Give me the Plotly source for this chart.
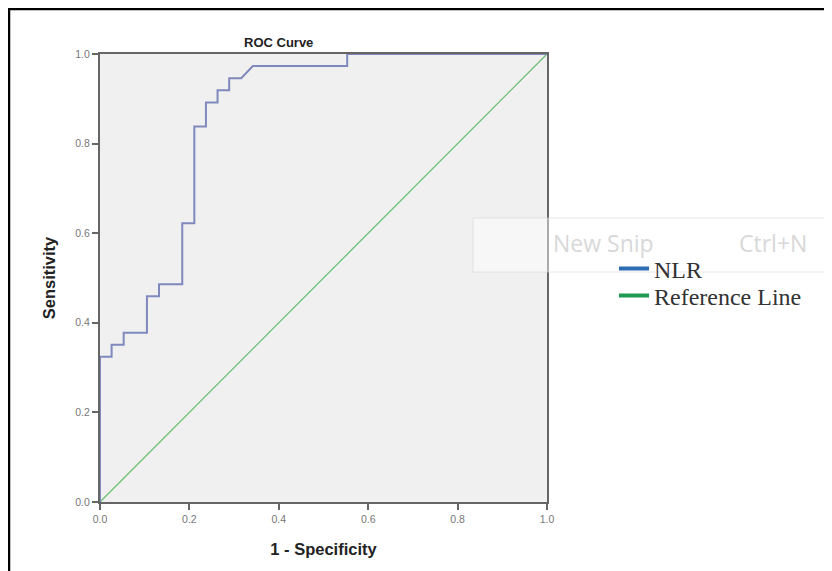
import plotly.graph_objects as go

# ROC curve vertices (1 - specificity, sensitivity)
fpr = [0.0, 0.0, 0.026, 0.026, 0.053, 0.053, 0.105, 0.105, 0.132, 0.132, 0.184, 0.184,
       0.211, 0.211, 0.237, 0.237, 0.263, 0.263, 0.289, 0.289, 0.316, 0.342, 0.553, 0.553, 1.0]
tpr = [0.0, 0.324, 0.324, 0.351, 0.351, 0.378, 0.378, 0.459, 0.459, 0.486, 0.486, 0.622,
       0.622, 0.838, 0.838, 0.892, 0.892, 0.919, 0.919, 0.946, 0.946, 0.973, 0.973, 1.0, 1.0]
ref_x = [0.0, 1.0]
ref_y = [0.0, 1.0]
tick_vals = [0.0, 0.2, 0.4, 0.6, 0.8, 1.0]
tick_text = ["0.0", "0.2", "0.4", "0.6", "0.8", "1.0"]
series_names = ["NLR", "Reference Line"]

# page body has an 8px margin; figure coordinates below are page pixels minus 8
OFF = 8
L, T, PW, PH = 100 - OFF, 54 - OFF, 447, 448
W, H = 832 - OFF, 571 - OFF


def px(xp):
    return (xp - OFF - L) / PW


def py(yp):
    return (T + PH - (yp - OFF)) / PH


fig = go.Figure()
fig.add_trace(go.Scatter(x=ref_x, y=ref_y, mode="lines", showlegend=False,
                         line=dict(color="#6cbf75", width=1.3), hoverinfo="skip"))
fig.add_trace(go.Scatter(x=fpr, y=tpr, mode="lines", showlegend=False,
                         line=dict(color="#7f89bd", width=2), hoverinfo="skip"))
# legend entries (thicker lines as in the reference legend), one legend each
fig.add_trace(go.Scatter(x=[None], y=[None], mode="lines", name=series_names[0],
                         legend="legend", line=dict(color="#2e6db4", width=4)))
fig.add_trace(go.Scatter(x=[None], y=[None], mode="lines", name=series_names[1],
                         legend="legend2", line=dict(color="#1f9a50", width=4)))

axis_common = dict(range=[0, 1], tickvals=tick_vals, ticktext=tick_text,
                   showgrid=False, zeroline=False, showline=True, mirror=True,
                   linecolor="#666666", linewidth=2, ticks="outside", ticklen=6,
                   tickcolor="#666666", tickwidth=1.5,
                   tickfont=dict(family="Liberation Sans, Arial", size=10.5, color="#777777"),
                   fixedrange=True)

legend_font = dict(family="Liberation Serif, Times New Roman", size=24, color="#333")

fig.update_layout(
    width=W, height=H,
    margin=dict(l=L, r=W - L - PW, t=T, b=H - T - PH),
    paper_bgcolor="white", plot_bgcolor="#f0f0f0",
    xaxis=dict(**axis_common,
               title=dict(text="<b>1 - Specificity</b>", standoff=20,
                          font=dict(family="Liberation Sans, Arial", size=16.5, color="#222"))),
    yaxis=dict(**axis_common,
               title=dict(text="<b>Sensitivity</b>", standoff=16,
                          font=dict(family="Liberation Sans, Arial", size=16.5, color="#222"))),
    showlegend=True,
    legend=dict(x=px(614), y=py(269), xanchor="left", yanchor="middle",
                font=legend_font, bgcolor="rgba(0,0,0,0)"),
    legend2=dict(x=px(614), y=py(296), xanchor="left", yanchor="middle",
                 font=legend_font, bgcolor="rgba(0,0,0,0)"),
    annotations=[
        dict(text="<b>ROC Curve</b>", xref="paper", yref="paper", x=px(278),
             y=py(42), showarrow=False, xanchor="center", yanchor="middle",
             font=dict(family="Liberation Sans, Arial", size=13, color="#222")),
        dict(text="New Snip", xref="paper", yref="paper", x=px(603),
             y=py(243), showarrow=False, xanchor="center", yanchor="middle",
             font=dict(family="Open Sans, Noto Sans", size=23, color="#d8d8d8")),
        dict(text="Ctrl+N", xref="paper", yref="paper", x=px(773),
             y=py(243), showarrow=False, xanchor="center", yanchor="middle",
             font=dict(family="Open Sans, Noto Sans", size=23, color="#d8d8d8")),
    ],
    shapes=[
        dict(type="rect", xref="paper", yref="paper",
             x0=px(473), x1=px(845), y0=py(272), y1=py(218),
             fillcolor="rgba(255,255,255,0.45)", line=dict(color="rgba(215,215,215,0.6)", width=1),
             layer="above"),
        dict(type="rect", xref="paper", yref="paper",
             x0=px(9), x1=px(829), y0=py(600), y1=py(9),
             fillcolor="rgba(0,0,0,0)", line=dict(color="black", width=2.5), layer="above"),
    ],
)

fig.write_html("out.html")
